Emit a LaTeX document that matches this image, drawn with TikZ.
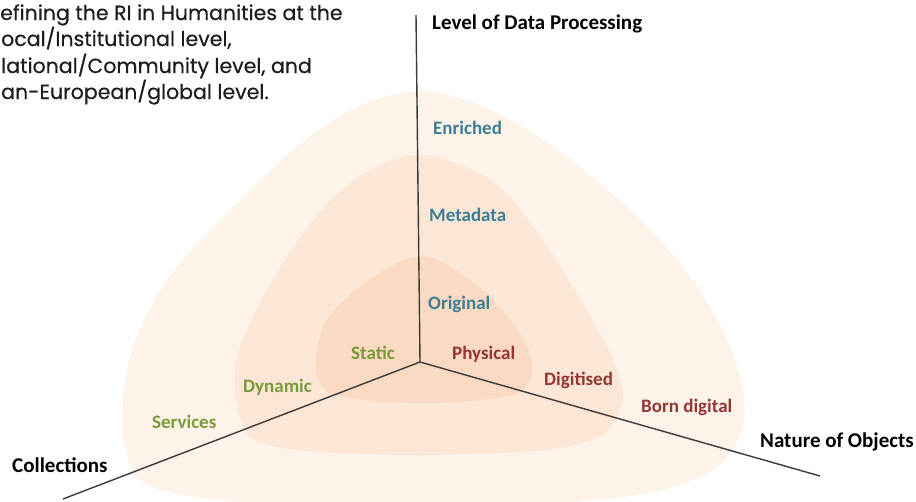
\documentclass[tikz,border=0pt]{standalone}
\usepackage{fontspec}
\setmainfont{Carlito}
\newfontfamily\geofont[FakeBold=0.4]{Poppins}
\definecolor{outerc}{HTML}{FEF3E8}
\definecolor{midc}{HTML}{FCE7D6}
\definecolor{innerc}{HTML}{FADAC2}
\definecolor{bluec}{HTML}{3B7E95}
\definecolor{greenc}{HTML}{7A9A3A}
\definecolor{redc}{HTML}{943634}
\definecolor{axisc}{HTML}{3A3A3A}
\definecolor{introc}{HTML}{1E1C1C}
\tikzset{
  axislabel/.style={font=\bfseries\fontsize{21}{21}\selectfont, text=black, inner sep=0pt, anchor=base west},
  lvl/.style={font=\bfseries\fontsize{19}{19}\selectfont, inner sep=0pt, anchor=base west},
  intro/.style={font=\geofont\fontsize{20.5}{20.5}\selectfont, text=introc, inner sep=0pt, anchor=base west},
  axisline/.style={draw=axisc, line width=1.4pt},
  blob/.style={smooth cycle, tension=0.55},
}
\begin{document}
\begin{tikzpicture}[x=1pt,y=-1pt]
\useasboundingbox (0,0) rectangle (916,501);
% blobs
\fill[outerc] plot[blob] coordinates {(425,91) (490,110) (553,147) (633,213) (693,280) (730,347) (744,400) (740,435) (713,470) (653,492) (560,503) (420,507) (280,505) (190,496) (140,480) (125,447) (122,413) (133,347) (167,280) (227,213) (305,140) (365,104)};
\fill[midc] plot[blob] coordinates {(425,155) (490,180) (530,222) (570,282) (607,347) (620,380) (622,402) (607,432) (570,446) (520,452) (420,455) (320,452) (258,442) (241,420) (235,385) (240,347) (273,280) (320,212) (370,170)};
\fill[innerc] plot[blob] coordinates {(422,256) (470,280) (512,322) (532,362) (520,392) (470,401) (420,403) (365,400) (325,390) (316,360) (328,318) (372,278)};
% axes
\coordinate (O) at (420,362);
\coordinate (T) at (416,15);
\coordinate (L) at (63,499);
\coordinate (R) at (820,476);
\draw[axisline] (O) -- (T);
\draw[axisline] (O) -- (L);
\draw[axisline] (O) -- (R);
% axis labels
\node[axislabel] (lt) at (432,29) {Level of Data Processing};
\node[axislabel] (ll) at (12,472) {Collections};
\node[axislabel] (lr) at (760,447) {Nature of Objects};
% level labels
\node[lvl, text=bluec] (enr) at (433,134) {Enriched};
\node[lvl, text=bluec] (met) at (429,221) {Metadata};
\node[lvl, text=bluec] (ori) at (428,309) {Original};
\node[lvl, text=greenc] (sta) at (351,359) {Static};
\node[lvl, text=greenc] (dyn) at (243,392) {Dynamic};
\node[lvl, text=greenc] (ser) at (152,428) {Services};
\node[lvl, text=redc] (phy) at (452,359) {Physical};
\node[lvl, text=redc] (dig) at (544,385) {Digitised};
\node[lvl, text=redc] (bor) at (641,412) {Born digital};
% intro text
\node[intro] (i1) at (0,20) {efining the RI in Humanities at the};
\node[intro] (i2) at (1,46) {ocal/Institutional level,};
\node[intro] (i3) at (1,73) {lational/Community level, and};
\node[intro] (i4) at (1,99) {an-European/global level.};
\end{tikzpicture}
\end{document}
